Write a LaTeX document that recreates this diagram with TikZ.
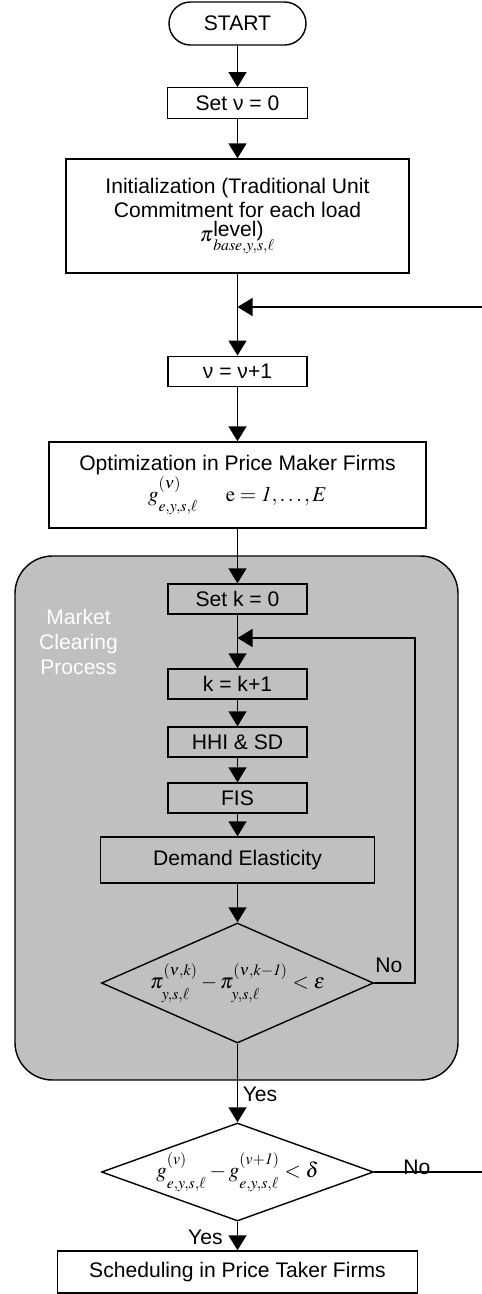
\documentclass[tikz,border=0pt]{standalone}
\usepackage{amsmath}
\usepackage{mathptmx}
\usepackage[no-math]{fontspec}
\setmainfont{Liberation Sans}
\usetikzlibrary{arrows.meta, positioning, shapes.geometric}

\definecolor{panel}{HTML}{C0C0C0}
% indices set a little apart, as in the printed formulas
\newcommand{\upidx}[1]{^{\raisebox{3pt}{$\scriptstyle #1$}}}
\newcommand{\lowidx}[1]{_{\raisebox{-3pt}{$\scriptstyle #1$}}}

\begin{document}
\begin{tikzpicture}[
    font=\fontsize{12}{13.6}\selectfont,
    box/.style={draw, line width=0.8pt, inner sep=0pt, align=center, minimum width=2.78cm, minimum height=0.61cm},
    terminal/.style={box, rounded corners=0.43cm, minimum width=2.74cm, minimum height=0.86cm},
    decision/.style={draw, line width=0.8pt, diamond, inner sep=0pt, minimum width=5.44cm},
    region/.style={draw, line width=0.8pt, fill=panel, rounded corners=0.75cm},
    tag/.style={inner sep=0pt},
    flow/.style={-{Triangle[length=0.3cm, width=0.36cm]}, line width=0.8pt}
]
    \useasboundingbox (0,0) rectangle (9.64,-25.88);

    % market clearing panel (behind everything)
    \node[region, minimum width=8.86cm, minimum height=10.48cm] (mcp) at (4.73,-16.36) {};
    \node[text=white, align=center, font=\fontsize{12}{14.2}\selectfont] (mcptitle) at (1.57,-12.84) {Market\\Clearing\\Process};

    % outer loop
    \node[terminal] (start) at (4.75,-0.47) {START};
    \node[box, minimum width=2.80cm] (setv) at (4.75,-2.06) {Set ν = 0};
    \node[box, minimum width=6.86cm, minimum height=2.28cm] (init) at (4.75,-4.32)
        {Initialization (Traditional Unit\\Commitment for each load\\$\pi\rlap{\raisebox{3pt}{level)}}\lowidx{base,y,s,\ell}$};
    \coordinate (join1) at (4.75,-6.14);
    \node[box] (incv) at (4.75,-7.43) {ν = ν+1};
    \node[box, minimum width=7.54cm, minimum height=1.72cm] (opt) at (4.75,-9.70)
        {Optimization in Price Maker Firms\\$g\upidx{(\nu)}\lowidx{e,y,s,\ell}\hspace{0.55cm}\mathrm{e}=\mathit{1},\ldots,E$};

    % inner loop
    \node[box, minimum height=0.60cm] (setk) at (4.75,-11.98) {Set k = 0};
    \coordinate (join2) at (4.75,-12.76);
    \node[box, minimum height=0.60cm] (inck) at (4.75,-13.68) {k = k+1};
    \node[box, minimum height=0.60cm] (hhi) at (4.75,-14.84) {HHI \& SD};
    \node[box, minimum height=0.60cm] (fis) at (4.75,-15.96) {FIS};
    \node[box, minimum width=5.48cm, minimum height=0.92cm] (dem) at (4.75,-17.20) {Demand Elasticity};
    \node[decision, minimum height=2.40cm,
        label=center:{$\pi\upidx{(\nu,k)}\lowidx{y,s,\ell}-\pi\upidx{(\nu,k-\mathit{1})}\lowidx{y,s,\ell}<\varepsilon$}] (dia1) at (4.75,-19.66) {};
    \coordinate (loopk) at (8.30,-19.66);

    % convergence test
    \node[decision, minimum height=1.96cm,
        label=center:{$g\upidx{(v)}\lowidx{e,y,s,\ell}-g\upidx{(v+\mathit{1})}\lowidx{e,y,s,\ell}<\delta$}] (dia2) at (4.75,-23.44) {};
    \coordinate (loopv) at (9.95,-23.44);
    \node[box, minimum width=7.20cm, minimum height=0.84cm] (sched) at (4.75,-25.44) {Scheduling in Price Taker Firms};

    % labels
    \node[tag, anchor=south west] (no1) at (7.50,-19.46) {No};
    \node[tag, anchor=west] (yes1) at (4.85,-21.88) {Yes};
    \node[tag, anchor=base west] (no2) at (8.06,-23.48) {No};
    \node[tag, anchor=east] (yes2) at (4.46,-24.74) {Yes};

    % connectors
    \draw[flow] (start) -- (setv);
    \draw[flow] (setv) -- (init);
    \draw[flow] (init) -- (incv);
    \draw[flow] (incv) -- (opt);
    \draw[flow] (opt) -- (setk);
    \draw[flow] (setk) -- (inck);
    \draw[flow] (inck) -- (hhi);
    \draw[flow] (hhi) -- (fis);
    \draw[flow] (fis) -- (dem);
    \draw[flow] (dem) -- (dia1);
    \draw[flow] (dia1) -- (dia2);
    \draw[flow] (dia2) -- (sched);
    \draw[flow] (dia1.east) -- (loopk) |- (join2);
    \draw[flow] (dia2.east) -- (loopv) |- (join1);
\end{tikzpicture}
\end{document}
